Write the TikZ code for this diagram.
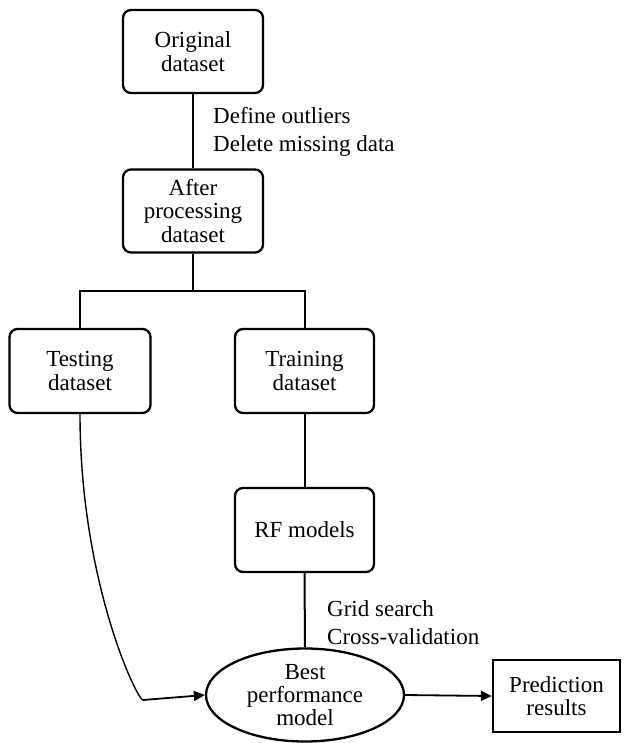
\documentclass[tikz,border=0pt]{standalone}
\usepackage{fontspec}
\setmainfont{Liberation Serif}
\usetikzlibrary{arrows.meta,shapes.geometric}
\begin{document}
\begin{tikzpicture}[x=1pt,y=-1pt,
  stepbox/.style={draw,line width=2.3pt,rounded corners=8pt,minimum width=140pt,minimum height=83pt,align=center,inner sep=0pt,font=\fontsize{23}{23.3}\selectfont},
  plainbox/.style={draw,line width=2.3pt,minimum width=127pt,minimum height=72pt,align=center,inner sep=0pt,font=\fontsize{23}{23.3}\selectfont},
  ovalbox/.style={draw,ellipse,line width=2.3pt,minimum width=198pt,minimum height=93pt,align=center,inner sep=0pt,font=\fontsize{23}{23.3}\selectfont},
  lbl/.style={anchor=west,align=left,inner sep=0pt,font=\fontsize{23}{28}\selectfont},
  conn/.style={line width=2pt},
  arr/.style={line width=1.8pt,-{Triangle[length=11pt,width=10pt]}}]
\useasboundingbox (0,0) rectangle (623,743);
\node[stepbox] (orig) at (193,51.5) {Original\\dataset};
\node[stepbox] (after) at (193,211) {After\\processing\\dataset};
\node[stepbox,minimum width=141pt,minimum height=84pt] (test) at (80,371) {Testing\\dataset};
\node[stepbox,minimum width=139pt,minimum height=84pt] (train) at (304.5,371) {Training\\dataset};
\node[stepbox,minimum width=139pt,minimum height=84pt] (rf) at (304.5,530) {RF models};
\node[ovalbox] (best) at (305,695) {Best\\performance\\model};
\node[plainbox] (pred) at (556.5,696) {Prediction\\results};
\node[lbl] (l1) at (213,132) {Define outliers\\Delete missing data};
\node[lbl] (l2) at (327,623) {Grid search\\Cross-validation};
\coordinate (split) at (193,291);
\coordinate (bend) at (143,700);
\draw[conn] (orig.south) -- (after.north);
\draw[conn] (after.south) -- (split);
\draw[conn] (test.north) |- (split) -| (train.north);
\draw[conn] (train.south) -- (rf.north);
\draw[conn] (rf.south) -- (best.north);
\draw[line width=1.4pt] (test.south) .. controls (80,581) and (137,700) .. (bend);
\draw[arr] (bend) -- (best.west);
\draw[arr] (best.east) -- (pred.west);
\end{tikzpicture}
\end{document}
